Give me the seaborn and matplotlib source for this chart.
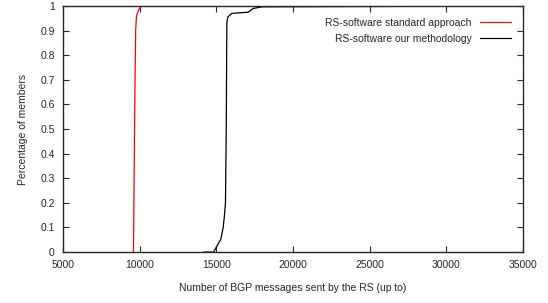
import matplotlib
matplotlib.use('Agg')
import matplotlib.pyplot as plt
import pandas as pd
import seaborn as sns

# CDF: messages (x) vs fraction of members (y)
std_x = [9595, 9640, 9690, 9740, 9790, 9820, 9850, 9900, 9930, 10050, 10150, 35000]
std_y = [0.0, 0.3, 0.65, 0.9, 0.955, 0.965, 0.97, 0.98, 0.985, 0.995, 1.0, 1.0]

our_x = [14165, 14820, 15000, 15300, 15450, 15535, 15600, 15650, 15690, 15750, 16000, 17080, 17400, 18000, 35000]
our_y = [0.0, 0.0, 0.02, 0.053, 0.1, 0.15, 0.2, 0.5, 0.93, 0.955, 0.97, 0.975, 0.99, 0.997, 1.0]

label_std = 'RS-software standard approach'
label_our = 'RS-software our methodology'

df = pd.concat([
    pd.DataFrame({'x': std_x, 'y': std_y, 'serie': label_std}),
    pd.DataFrame({'x': our_x, 'y': our_y, 'serie': label_our}),
])

sns.set_style('ticks')
plt.rcParams['font.family'] = ['Liberation Sans', 'DejaVu Sans']

fig = plt.figure(figsize=(5.48, 3.03), dpi=100)
ax = fig.add_axes([0.115, 0.168, 0.839, 0.812])

sns.lineplot(data=df, x='x', y='y', hue='serie', sort=False, estimator=None,
             palette={label_std: '#ff0000', label_our: '#000000'}, linewidth=0.9, ax=ax)

ax.set_xlim(5000, 35000)
ax.set_ylim(0, 1)
ax.set_xticks(range(5000, 35001, 5000))
ax.set_yticks([i / 10 for i in range(11)])
ax.set_yticklabels(['0', '0.1', '0.2', '0.3', '0.4', '0.5', '0.6', '0.7', '0.8', '0.9', '1'])
ax.tick_params(direction='in', length=4, width=0.8, labelsize=7.5,
               top=True, right=True, pad=6)
for s in ax.spines.values():
    s.set_linewidth(1.0)
    s.set_visible(True)

ax.set_xlabel('Number of BGP messages sent by the RS (up to)', fontsize=7.5, labelpad=9)
ax.set_ylabel('Percentage of members', fontsize=7.5, labelpad=9)

ax.legend(loc='upper right', bbox_to_anchor=(0.993, 0.985), frameon=False, markerfirst=False,
          fontsize=7.5, handlelength=3.0, borderaxespad=0.4, labelspacing=0.55, title=None)

fig.savefig('out.png', dpi=100)
